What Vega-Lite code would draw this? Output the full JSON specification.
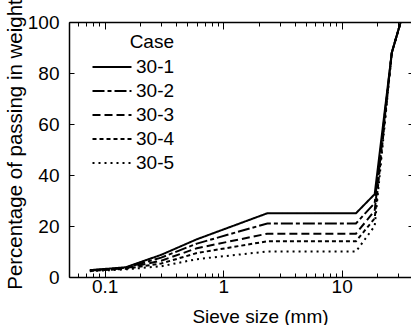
{
  "$schema": "https://vega.github.io/schema/vega-lite/v6.json",
  "width": 344,
  "height": 255,
  "autosize": {"type": "none"},
  "padding": {"left": 69, "top": 22, "right": 0, "bottom": 48},
  "background": "white",
  "config": {
    "font": "Liberation Sans",
    "view": {"stroke": null},
    "axis": {
      "domainColor": "black", "domainWidth": 1.5, "tickColor": "black", "tickWidth": 1,
      "labelColor": "black", "titleColor": "black", "labelFont": "Liberation Sans",
      "titleFont": "Liberation Sans", "grid": false, "titleFontWeight": "normal",
      "labelOverlap": false, "labelFlush": false
    },
    "legend": {
      "labelFont": "Liberation Sans", "titleFont": "Liberation Sans", "labelColor": "black", "titleColor": "black"
    }
  },
  "data": {
    "values": [
      {"size": 0.075, "pct": 2.7, "case": "30-1"},
      {"size": 0.15, "pct": 3.8, "case": "30-1"},
      {"size": 0.3, "pct": 8.7, "case": "30-1"},
      {"size": 0.6, "pct": 14.8, "case": "30-1"},
      {"size": 2.36, "pct": 25, "case": "30-1"},
      {"size": 13.2, "pct": 25, "case": "30-1"},
      {"size": 19, "pct": 32.5, "case": "30-1"},
      {"size": 26.5, "pct": 88, "case": "30-1"},
      {"size": 31.5, "pct": 100, "case": "30-1"},
      {"size": 0.075, "pct": 2.6, "case": "30-2"},
      {"size": 0.15, "pct": 3.6, "case": "30-2"},
      {"size": 0.3, "pct": 7.6, "case": "30-2"},
      {"size": 0.6, "pct": 13.1, "case": "30-2"},
      {"size": 2.36, "pct": 21, "case": "30-2"},
      {"size": 13.2, "pct": 21, "case": "30-2"},
      {"size": 19, "pct": 29, "case": "30-2"},
      {"size": 26.5, "pct": 88, "case": "30-2"},
      {"size": 31.5, "pct": 100, "case": "30-2"},
      {"size": 0.075, "pct": 2.5, "case": "30-3"},
      {"size": 0.15, "pct": 3.4, "case": "30-3"},
      {"size": 0.3, "pct": 6.4, "case": "30-3"},
      {"size": 0.6, "pct": 11.3, "case": "30-3"},
      {"size": 2.36, "pct": 17, "case": "30-3"},
      {"size": 13.2, "pct": 17, "case": "30-3"},
      {"size": 19, "pct": 26, "case": "30-3"},
      {"size": 26.5, "pct": 88, "case": "30-3"},
      {"size": 31.5, "pct": 100, "case": "30-3"},
      {"size": 0.075, "pct": 2.4, "case": "30-4"},
      {"size": 0.15, "pct": 3.2, "case": "30-4"},
      {"size": 0.3, "pct": 5.3, "case": "30-4"},
      {"size": 0.6, "pct": 9.4, "case": "30-4"},
      {"size": 2.36, "pct": 14, "case": "30-4"},
      {"size": 13.2, "pct": 14, "case": "30-4"},
      {"size": 19, "pct": 23, "case": "30-4"},
      {"size": 26.5, "pct": 88, "case": "30-4"},
      {"size": 31.5, "pct": 100, "case": "30-4"},
      {"size": 0.075, "pct": 2.3, "case": "30-5"},
      {"size": 0.15, "pct": 3.0, "case": "30-5"},
      {"size": 0.3, "pct": 4.2, "case": "30-5"},
      {"size": 0.6, "pct": 7.0, "case": "30-5"},
      {"size": 2.36, "pct": 10, "case": "30-5"},
      {"size": 13.2, "pct": 10, "case": "30-5"},
      {"size": 19, "pct": 20, "case": "30-5"},
      {"size": 26.5, "pct": 88, "case": "30-5"},
      {"size": 31.5, "pct": 100, "case": "30-5"}
    ]
  },
  "layer": [
    {
      "mark": {"type": "line", "strokeWidth": 2, "color": "black", "clip": true},
      "encoding": {
        "x": {
          "field": "size", "type": "quantitative",
          "scale": {"type": "log", "domain": [0.05, 40], "nice": false},
          "axis": {
            "orient": "bottom",
            "values": [0.05,0.06,0.07,0.08,0.09,0.1,0.2,0.3,0.4,0.5,0.6,0.7,0.8,0.9,1,2,3,4,5,6,7,8,9,10,20,30,40],
            "labelExpr": "datum.value == 0.1 ? '0.1' : datum.value == 1 ? '1' : datum.value == 10 ? '10' : ''",
            "tickSize": {"condition": {"test": "datum.value == 0.1 || datum.value == 1 || datum.value == 10", "value": -7}, "value": -4},
            "labelFontSize": 19, "labelPadding": 7,
            "title": "Sieve size (mm)", "titleFontSize": 19, "titlePadding": 8, "titleX": 191
          }
        },
        "y": {
          "field": "pct", "type": "quantitative",
          "scale": {"domain": [0, 100], "nice": false},
          "axis": {
            "orient": "left", "values": [0, 20, 40, 60, 80, 100], "tickSize": -5,
            "labelFontSize": 19, "labelPadding": 15,
            "title": "Percentage of passing in weight", "titleFontSize": 20.5, "titlePadding": 2, "titleY": 122
          }
        },
        "strokeDash": {
          "field": "case", "type": "nominal",
          "scale": {"domain": ["30-1", "30-2", "30-3", "30-4", "30-5"], "range": [[1, 0], [12, 3, 4, 3], [8, 4], [4, 3], [2, 4]]},
          "legend": {
            "orient": "none", "legendX": 32, "legendY": 11, "padding": 0,
            "title": "Case", "titleFontSize": 19, "titleFontWeight": "normal",
            "titleAnchor": "end", "titleAlign": "right", "titlePadding": 4,
            "labelFontSize": 19, "labelOffset": 13,
            "symbolType": "M-2,0H2", "symbolSize": 380, "symbolStrokeWidth": 2, "symbolStrokeColor": "black",
            "symbolFillColor": "transparent",
            "rowPadding": 3
          }
        }
      }
    },
    {
      "mark": {"type": "line", "opacity": 0},
      "encoding": {
        "x": {
          "field": "size", "type": "quantitative",
          "scale": {"type": "log", "domain": [0.05, 40], "nice": false},
          "axis": {
            "orient": "top", "labels": false, "title": null,
            "values": [0.05,0.06,0.07,0.08,0.09,0.1,0.2,0.3,0.4,0.5,0.6,0.7,0.8,0.9,1,2,3,4,5,6,7,8,9,10,20,30,40],
            "tickSize": {"condition": {"test": "datum.value == 0.1 || datum.value == 1 || datum.value == 10", "value": -7}, "value": -4}
          }
        },
        "y": {
          "field": "pct", "type": "quantitative",
          "scale": {"domain": [0, 100], "nice": false},
          "axis": {"orient": "right", "labels": false, "title": null, "values": [0, 20, 40, 60, 80, 100], "tickSize": -5}
        },
        "detail": {"field": "case", "type": "nominal"}
      }
    }
  ],
  "resolve": {"axis": {"x": "independent", "y": "independent"}}
}
